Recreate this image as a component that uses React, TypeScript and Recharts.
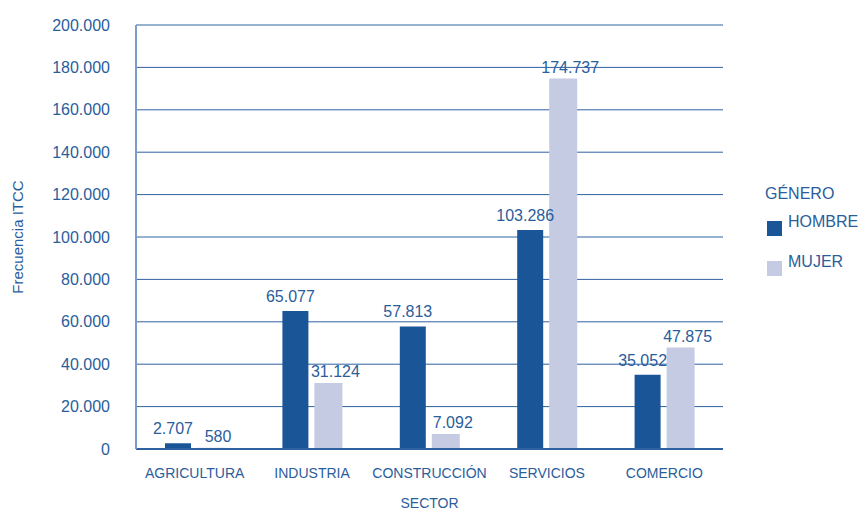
import React from "react";
import {
  BarChart,
  Bar,
  XAxis,
  YAxis,
  CartesianGrid,
  LabelList,
  Legend,
  Label,
} from "recharts";

const SECTORS = ["AGRICULTURA", "INDUSTRIA", "CONSTRUCCIÓN", "SERVICIOS", "COMERCIO"];
const HOMBRE = [2707, 65077, 57813, 103286, 35052];
const MUJER = [580, 31124, 7092, 174737, 47875];
const Y_TICKS = [0, 20000, 40000, 60000, 80000, 100000, 120000, 140000, 160000, 180000, 200000];

const TEXT = "#2a5d9c";
const DARK = "#1a5597";
const LIGHT = "#c5cbe3";
const FONT = "'Liberation Sans', Arial, sans-serif";

const data = SECTORS.map((sector, i) => ({
  sector,
  hombre: HOMBRE[i],
  mujer: MUJER[i],
}));

// 200000 -> "200.000"
const fmt = (v: number) => String(v).replace(/\B(?=(\d{3})+(?!\d))/g, ".");

const renderLegend = () => (
  <div style={{ fontFamily: FONT, color: TEXT, fontSize: 16, textAlign: "left" }}>
    <div style={{ marginBottom: 10 }}>GÉNERO</div>
    {[
      { name: "HOMBRE", color: DARK },
      { name: "MUJER", color: LIGHT },
    ].map((item) => (
      <div key={item.name} style={{ display: "flex", alignItems: "flex-start", height: 40 }}>
        <span
          style={{
            display: "inline-block",
            width: 15,
            height: 15,
            background: item.color,
            marginTop: 8,
            marginLeft: 2,
            marginRight: 6,
          }}
        />
        <span>{item.name}</span>
      </div>
    ))}
  </div>
);

const App: React.FC = () => {
  return (
    <div style={{ position: "absolute", left: 0, top: 0, width: 860, height: 511 }}>
      <BarChart
        width={860}
        height={511}
        data={data}
        margin={{ top: 25, right: 137, left: 36, bottom: 0 }}
        barGap={6}
        style={{ fontFamily: FONT }}
      >
        <CartesianGrid horizontal vertical={false} stroke="#2f62a0" strokeWidth={1} />
        <XAxis
          dataKey="sector"
          height={62}
          axisLine={{ stroke: "#2f62a0", strokeWidth: 2 }}
          tickLine={false}
          tickMargin={13}
          tick={{ fill: TEXT, fontSize: 14, fontFamily: FONT }}
          interval={0}
        >
          <Label
            value="SECTOR"
            position="insideBottom"
            offset={3}
            style={{ fill: TEXT, fontSize: 14, fontFamily: FONT }}
          />
        </XAxis>
        <YAxis
          width={100}
          domain={[0, 200000]}
          ticks={Y_TICKS}
          tickFormatter={fmt}
          axisLine={{ stroke: "#7d9cc8", strokeWidth: 2 }}
          tickLine={false}
          tickMargin={20}
          tick={{ fill: TEXT, fontSize: 16, fontFamily: FONT }}
        >
          <Label
            value="Frecuencia ITCC"
            angle={-90}
            position="insideLeft"
            offset={-18}
            style={{ fill: TEXT, fontSize: 15, fontFamily: FONT, textAnchor: "middle" }}
          />
        </YAxis>
        <YAxis
          yAxisId="right"
          orientation="right"
          width={0}
          domain={[0, 200000]}
          tick={false}
          tickLine={false}
          axisLine={{ stroke: "#7d9cc8", strokeWidth: 2 }}
        />
        <Legend
          layout="horizontal"
          verticalAlign="middle"
          align="center"
          content={renderLegend}
          wrapperStyle={{ position: "absolute", left: 765, top: 185, width: 95 }}
        />
        <Bar dataKey="hombre" name="HOMBRE" fill={DARK} barSize={26} isAnimationActive={false}>
          <LabelList
            dataKey="hombre"
            position="top"
            offset={9}
            dx={-5}
            formatter={(v: any) => fmt(Number(v))}
            style={{ fill: TEXT, fontSize: 16, fontFamily: FONT }}
          />
        </Bar>
        <Bar dataKey="mujer" name="MUJER" fill={LIGHT} barSize={28} isAnimationActive={false}>
          <LabelList
            dataKey="mujer"
            position="top"
            offset={6}
            dx={7}
            formatter={(v: any) => fmt(Number(v))}
            style={{ fill: TEXT, fontSize: 16, fontFamily: FONT }}
          />
        </Bar>
      </BarChart>
    </div>
  );
};

export default App;
